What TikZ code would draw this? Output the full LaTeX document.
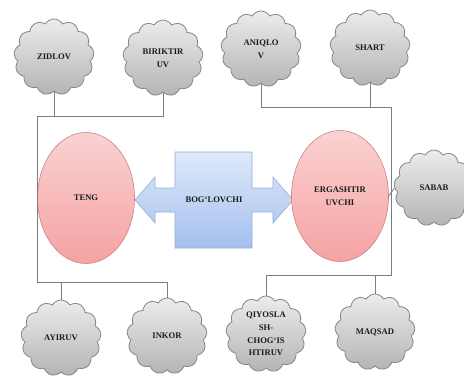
\documentclass[tikz,border=0pt]{standalone}
\usepackage{fontspec}
\setmainfont{Liberation Serif}
\usetikzlibrary{shapes.symbols,shapes.geometric}
\definecolor{linegray}{RGB}{125,125,125}
\definecolor{cloudline}{RGB}{135,135,135}
\definecolor{cloudtop}{RGB}{236,236,236}
\definecolor{cloudbot}{RGB}{180,180,180}
\definecolor{pinktop}{RGB}{250,210,210}
\definecolor{pinkbot}{RGB}{245,162,162}
\definecolor{pinkline}{RGB}{205,130,130}
\definecolor{bluetop}{RGB}{222,233,250}
\definecolor{bluebot}{RGB}{164,192,238}
\definecolor{blueline}{RGB}{150,175,215}
\definecolor{labeltext}{RGB}{28,28,28}
\tikzset{
  lbl/.style={font=\bfseries\fontsize{8.6}{12.8}\selectfont, text=labeltext, align=center},
  puff/.style={lbl, cloud, cloud puffs=13, cloud puff arc=120, aspect=1.05,
    draw=cloudline, line width=0.8pt, top color=cloudtop, bottom color=cloudbot,
    minimum width=80pt, minimum height=76pt, inner sep=0pt},
  oval/.style={lbl, ellipse, draw=pinkline, line width=0.6pt,
    top color=pinktop, bottom color=pinkbot, minimum width=97pt, minimum height=131pt, inner sep=0pt},
  link/.style={draw=linegray, line width=0.8pt},
}
\begin{document}
\begin{tikzpicture}[x=1pt,y=-1pt]
\useasboundingbox[fill=white] (0,0) rectangle (464,376);

% double arrow with a central box
\begin{scope}[shift={(214,200)}]
  \path[draw=blueline, line width=0.6pt, top color=bluetop, bottom color=bluebot]
    (-79,0) -- (-59,-23) -- (-59,-12) -- (-39,-12) -- (-39,-48) -- (38,-48) -- (38,-12)
    -- (59,-12) -- (59,-23) -- (79,0) -- (59,23) -- (59,12) -- (38,12) -- (38,48)
    -- (-39,48) -- (-39,12) -- (-59,12) -- (-59,23) -- cycle;
\end{scope}
\node[lbl] (bog) at (214,200) {BOG‘LOVCHI};

% the two main ovals
\node[oval] (teng) at (86,198) {TENG};
\node[oval] (erg) at (340,196) {ERGASHTIR\\UVCHI};

% clouds
\node[puff] (zidlov) at (54,57) {ZIDLOV};
\node[puff] (birik) at (163,58) {BIRIKTIR\\UV};
\node[puff] (aniq) at (261,49) {ANIQLO\\V};
\node[puff] (shart) at (370,48) {SHART};
\node[puff] (sabab) at (434,188) {SABAB};
\node[puff] (ayir) at (61,338) {AYIRUV};
\node[puff] (inkor) at (167,336) {INKOR};
\node[puff] (qiyos) at (266,334) {QIYOSLA\\SH-\\CHOG‘IS\\HTIRUV};
\node[puff] (maqsad) at (375,332) {MAQSAD};

% frame corners
\coordinate (ltop) at (37,116);
\coordinate (lbot) at (37,282);
\coordinate (rtop) at (391,107);
\coordinate (rbot) at (391,275);

% left frame
\draw[link] (zidlov.south) -- (zidlov.south |- ltop);
\draw[link] (birik.south) -- (birik.south |- ltop) -- (ltop) -- (lbot) -- (inkor.north |- lbot) -- (inkor.north);
\draw[link] (ayir.north) -- (ayir.north |- lbot);

% right frame
\draw[link] (shart.south) -- (shart.south |- rtop);
\draw[link] (aniq.south) -- (aniq.south |- rtop) -- (rtop) -- (rbot) -- (qiyos.north |- rbot) -- (qiyos.north);
\draw[link] (maqsad.north) -- (maqsad.north |- rbot);
\draw[link] (erg.east) -- (sabab.west);
\end{tikzpicture}
\end{document}
